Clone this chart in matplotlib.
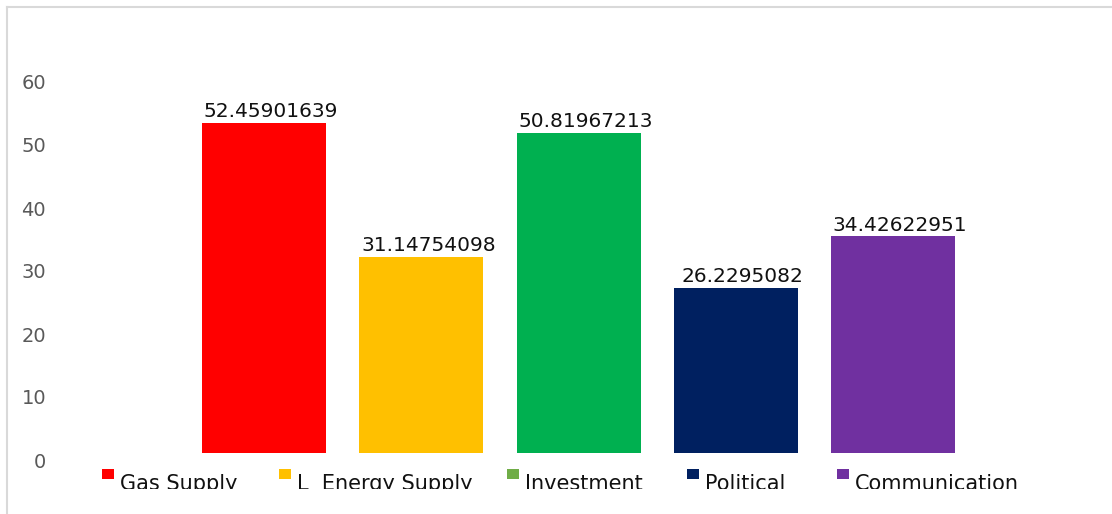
import matplotlib.pyplot as plt
import matplotlib.transforms as mtransforms
from matplotlib.patches import Rectangle
from matplotlib.lines import Line2D

categories = ['Gas Supply', 'L  Energy Supply', 'Investment', 'Political', 'Communication']
values = [52.45901639, 31.14754098, 50.81967213, 26.2295082, 34.42622951]
labels = ['52.45901639', '31.14754098', '50.81967213', '26.2295082', '34.42622951']
bar_colors = ['#FF0000', '#FFC000', '#00B050', '#002060', '#7030A0']
legend_colors = ['#FF0000', '#FFC000', '#70AD47', '#002060', '#7030A0']
yticks = [0, 10, 20, 30, 40, 50, 60]

W, H = 1112, 514
fig = plt.figure(figsize=(W / 100, H / 100), dpi=100)
fig.patch.set_facecolor('white')

# axes placed in pixels: x 60..1100, y(0)=453, y(60)=75
ax_l, ax_r, ax_b, ax_t = 60, 1100, 453, 75
ax = fig.add_axes([ax_l / W, (H - ax_b) / H, (ax_r - ax_l) / W, (ax_b - ax_t) / H])
px_per_unit = 157.25
x0 = 264
ax.set_xlim(-(x0 - ax_l) / px_per_unit, (ax_r - x0) / px_per_unit)
ax.set_ylim(0, 60)

xs = list(range(len(categories)))
bars = ax.bar(xs, values, width=124 / px_per_unit, color=bar_colors)
for x, v, lab in zip(xs, values, labels):
    ax.text(x + 0.045, v + 0.25, lab, ha='center', va='bottom', fontsize=14.5, color='#111111')

for s in ax.spines.values():
    s.set_visible(False)
ax.set_xticks([])
ax.set_yticks(yticks)
ax.tick_params(axis='y', length=0, pad=10, labelsize=14, labelcolor='#595959')
off = mtransforms.ScaledTranslation(0, -7 / 100, fig.dpi_scale_trans)
for t in ax.get_yticklabels():
    t.set_transform(t.get_transform() + off)

# legend (Excel-style, clipped at chart bottom)
leg_marker_x = [102, 279, 507, 687, 837]
for cx, name, col in zip(leg_marker_x, categories, legend_colors):
    fig.add_artist(Rectangle((cx / W, (H - 479) / H), 12 / W, 10 / H,
                             transform=fig.transFigure, color=col, lw=0))
    fig.text((cx + 18) / W, (H - 490) / H, name, fontsize=15, color='#111111',
             ha='left', va='baseline')

# white cover to clip the legend like the original
fig.add_artist(Rectangle((0, 0), 1, (H - 489) / H, transform=fig.transFigure,
                         color='white', lw=0, zorder=10))

# chart-area border (top and left)
fig.add_artist(Line2D([7 / W, 1], [(H - 7) / H, (H - 7) / H], transform=fig.transFigure,
                      color='#D9D9D9', lw=1.5, zorder=11))
fig.add_artist(Line2D([7 / W, 7 / W], [0, (H - 7) / H], transform=fig.transFigure,
                      color='#D9D9D9', lw=1.5, zorder=11))

fig.savefig('out.png', dpi=100)
